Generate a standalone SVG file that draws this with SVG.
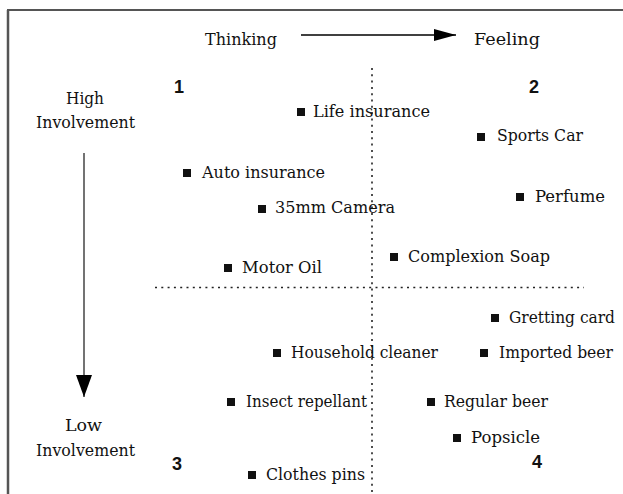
<svg xmlns="http://www.w3.org/2000/svg" width="623" height="494" viewBox="0 0 623 494">
<style>
.t{font-family:"DejaVu Serif","Liberation Serif",serif;font-size:16.5px;fill:#111}
.h{font-family:"DejaVu Serif","Liberation Serif",serif;font-size:16.5px;fill:#111}
.n{font-family:"Liberation Sans",Arial,sans-serif;font-size:18px;font-weight:bold;fill:#111}
.b{fill:#111}
.dot{stroke:#222;stroke-width:1.6;fill:none;stroke-dasharray:2 4.3}
</style>
<defs>
<marker id="ah" markerWidth="22" markerHeight="12" refX="22" refY="6" orient="auto" markerUnits="userSpaceOnUse">
<path d="M0,0 L22,6 L0,12 Z" fill="#000"/>
</marker>
<marker id="av" markerWidth="22" markerHeight="16" refX="22" refY="8" orient="auto" markerUnits="userSpaceOnUse">
<path d="M0,0 L22,8 L0,16 Z" fill="#000"/>
</marker>
</defs>
<rect width="623" height="494" fill="#fff"/>
<g id="frame">
<line x1="7" y1="10" x2="623" y2="10" stroke="#555" stroke-width="2"/>
<line x1="8" y1="10" x2="8" y2="494" stroke="#555" stroke-width="2.5"/>
</g>
<g id="connectors">
<line x1="301" y1="35" x2="456" y2="35" stroke="#000" stroke-width="1.5" marker-end="url(#ah)"/>
<line x1="84" y1="153" x2="84" y2="397" stroke="#444" stroke-width="1.5" marker-end="url(#av)"/>
<line class="dot" x1="372" y1="68" x2="372" y2="494"/>
<line class="dot" x1="155" y1="287.5" x2="584" y2="287.5"/>
</g>
<g id="axis-thinking"><text class="h" x="205" y="45" textLength="72" lengthAdjust="spacingAndGlyphs">Thinking</text></g>
<g id="axis-feeling"><text class="h" x="474" y="45" textLength="66" lengthAdjust="spacingAndGlyphs">Feeling</text></g>
<g id="axis-high"><text class="h" x="66" y="104" textLength="38" lengthAdjust="spacingAndGlyphs">High</text><text class="h" x="36" y="128" textLength="99" lengthAdjust="spacingAndGlyphs">Involvement</text></g>
<g id="axis-low"><text class="h" x="65" y="431" textLength="37" lengthAdjust="spacingAndGlyphs">Low</text><text class="h" x="36" y="456" textLength="99" lengthAdjust="spacingAndGlyphs">Involvement</text></g>
<g id="q1"><text class="n" x="174" y="93">1</text></g>
<g id="q2"><text class="n" x="529" y="93">2</text></g>
<g id="q3"><text class="n" x="172" y="470">3</text></g>
<g id="q4"><text class="n" x="532" y="468">4</text></g>
<g id="life-insurance"><rect class="b" x="297" y="108" width="8" height="8"/><text class="t" x="313" y="117" textLength="117" lengthAdjust="spacingAndGlyphs">Life insurance</text></g>
<g id="sports-car"><rect class="b" x="477" y="133" width="8" height="8"/><text class="t" x="497" y="141" textLength="86" lengthAdjust="spacingAndGlyphs">Sports Car</text></g>
<g id="auto-insurance"><rect class="b" x="183" y="169" width="8" height="8"/><text class="t" x="202" y="178" textLength="123" lengthAdjust="spacingAndGlyphs">Auto insurance</text></g>
<g id="perfume"><rect class="b" x="516" y="193" width="8" height="8"/><text class="t" x="535" y="202" textLength="70" lengthAdjust="spacingAndGlyphs">Perfume</text></g>
<g id="camera"><rect class="b" x="258" y="205" width="8" height="8"/><text class="t" x="275" y="213" textLength="120" lengthAdjust="spacingAndGlyphs">35mm Camera</text></g>
<g id="complexion-soap"><rect class="b" x="390" y="253" width="8" height="8"/><text class="t" x="408" y="262" textLength="142" lengthAdjust="spacingAndGlyphs">Complexion Soap</text></g>
<g id="motor-oil"><rect class="b" x="224" y="264" width="8" height="8"/><text class="t" x="242" y="273" textLength="80" lengthAdjust="spacingAndGlyphs">Motor Oil</text></g>
<g id="gretting-card"><rect class="b" x="491" y="314" width="8" height="8"/><text class="t" x="509" y="323" textLength="106" lengthAdjust="spacingAndGlyphs">Gretting card</text></g>
<g id="household-cleaner"><rect class="b" x="273" y="349" width="8" height="8"/><text class="t" x="291" y="358" textLength="147" lengthAdjust="spacingAndGlyphs">Household cleaner</text></g>
<g id="imported-beer"><rect class="b" x="480" y="349" width="8" height="8"/><text class="t" x="499" y="358" textLength="114" lengthAdjust="spacingAndGlyphs">Imported beer</text></g>
<g id="insect-repellant"><rect class="b" x="227" y="398" width="8" height="8"/><text class="t" x="246" y="407" textLength="121" lengthAdjust="spacingAndGlyphs">Insect repellant</text></g>
<g id="regular-beer"><rect class="b" x="427" y="398" width="8" height="8"/><text class="t" x="444" y="407" textLength="104" lengthAdjust="spacingAndGlyphs">Regular beer</text></g>
<g id="popsicle"><rect class="b" x="453" y="434" width="8" height="8"/><text class="t" x="471" y="443" textLength="69" lengthAdjust="spacingAndGlyphs">Popsicle</text></g>
<g id="clothes-pins"><rect class="b" x="248" y="471" width="8" height="8"/><text class="t" x="266" y="480" textLength="99" lengthAdjust="spacingAndGlyphs">Clothes pins</text></g>
</svg>
